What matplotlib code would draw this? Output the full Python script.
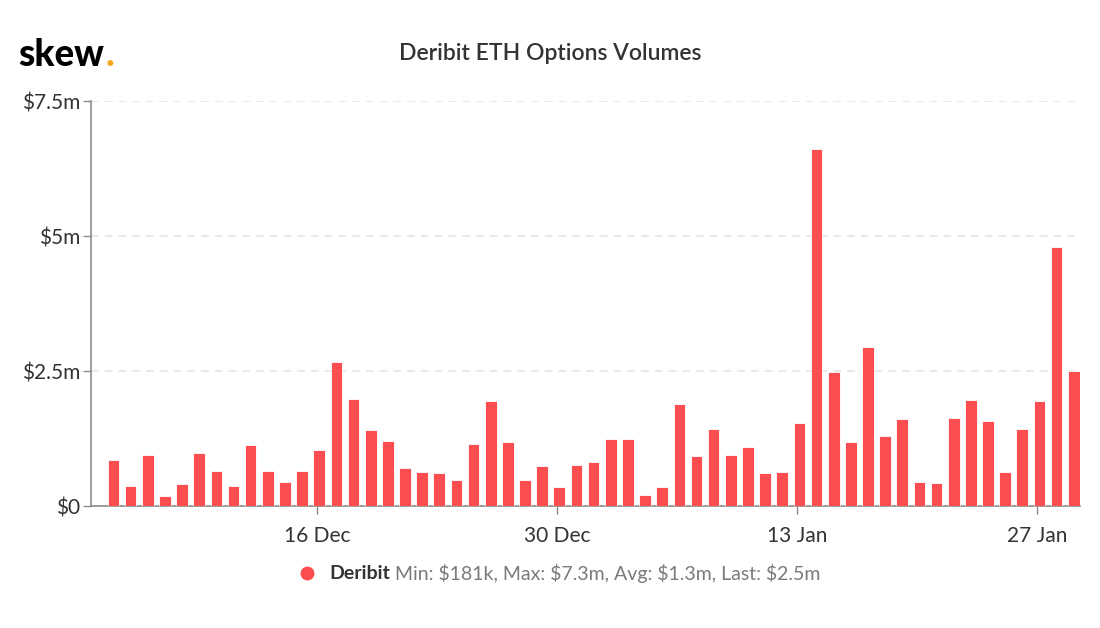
import matplotlib
matplotlib.use("Agg")
import matplotlib.pyplot as plt
import matplotlib.dates as mdates
import pandas as pd

plt.rcParams['font.family'] = ['Lato', 'DejaVu Sans']

# daily Deribit ETH options volume, in $m
dates = pd.date_range("2019-12-04", "2020-01-29", freq="D")
volumes = [0.85, 0.38, 0.94, 0.19, 0.41, 0.99, 0.65, 0.38, 1.14, 0.65,
           0.44, 0.66, 1.04, 2.67, 1.99, 1.41, 1.20, 0.71, 0.63, 0.62,
           0.48, 1.15, 1.94, 1.19, 0.49, 0.74, 0.35, 0.77, 0.81, 1.24,
           1.25, 0.20, 0.35, 1.90, 0.92, 1.43, 0.94, 1.09, 0.61, 0.64,
           1.54, 6.62, 2.48, 1.18, 2.94, 1.30, 1.62, 0.45, 0.42, 1.64,
           1.96, 1.57, 0.63, 1.43, 1.94, 4.79, 2.50]
yticks = [0, 2.5, 5, 7.5]
ytick_labels = ["\\$0", "\\$2.5m", "\\$5m", "\\$7.5m"]
xtick_dates = pd.to_datetime(["2019-12-16", "2019-12-30", "2020-01-13", "2020-01-27"])
legend_stats = "Min: \\$181k, Max: \\$7.3m, Avg: \\$1.3m, Last: \\$2.5m"

bar_color = "#fc4e51"
axis_color = "#8c8c8c"
text_color = "#333333"

fig = plt.figure(figsize=(11, 6.28), dpi=100)
ax = fig.add_axes([0.083, 0.194, 0.899, 0.645])

x = dates + pd.Timedelta(hours=3)
ax.bar(x, volumes, width=0.68, color=bar_color, edgecolor="white", linewidth=0.6, zorder=3)

ax.set_ylim(0, 7.5)
ax.set_xlim(pd.Timestamp("2019-12-02 20:00"), pd.Timestamp("2020-01-29 12:00"))
ax.set_yticks(yticks)
ax.set_yticklabels(ytick_labels)
ax.set_xticks(xtick_dates)
ax.xaxis.set_major_formatter(mdates.DateFormatter("%-d %b"))

ax.grid(axis="y", color="#e3e3e3", linestyle=(0, (5, 4)), linewidth=1.1, zorder=0)
ax.set_axisbelow(True)
for side in ["top", "right"]:
    ax.spines[side].set_visible(False)
for side in ["left", "bottom"]:
    ax.spines[side].set_color(axis_color)
    ax.spines[side].set_linewidth(1.2)
ax.tick_params(axis="y", length=6, width=1, color=axis_color, labelsize=15,
               labelcolor=text_color, pad=2)
ax.tick_params(axis="x", length=6, width=1, color=axis_color, labelsize=15,
               labelcolor=text_color, pad=8)

fig.text(0.5, 0.915, "Deribit ETH Options Volumes", ha="center", va="center",
         fontsize=16.5, color=text_color, fontweight="semibold")

logo = fig.text(0.017, 0.913, "skew", ha="left", va="center", fontsize=26.5,
                fontweight="black", color="black")
fig.canvas.draw()
ax.annotate(".", xy=(1, 0), xycoords=logo, xytext=(0.8, 0), textcoords="offset points",
            fontsize=26.5, fontweight="black", color="#f5a623", va="bottom")

# legend
fig.lines.append(plt.Line2D([0.2795], [0.0875], transform=fig.transFigure, marker="o",
                            markersize=9, color=bar_color, linestyle="none"))
name = fig.text(0.299, 0.0875, "Deribit", ha="left", va="center", fontsize=14,
                fontweight="bold", color=text_color)
ax.annotate(legend_stats, xy=(1, 0.5), xycoords=name, xytext=(4, 0),
            textcoords="offset points", va="center", fontsize=14, color="#7a7a7a")

fig.savefig("out.png", dpi=100, facecolor="white")
